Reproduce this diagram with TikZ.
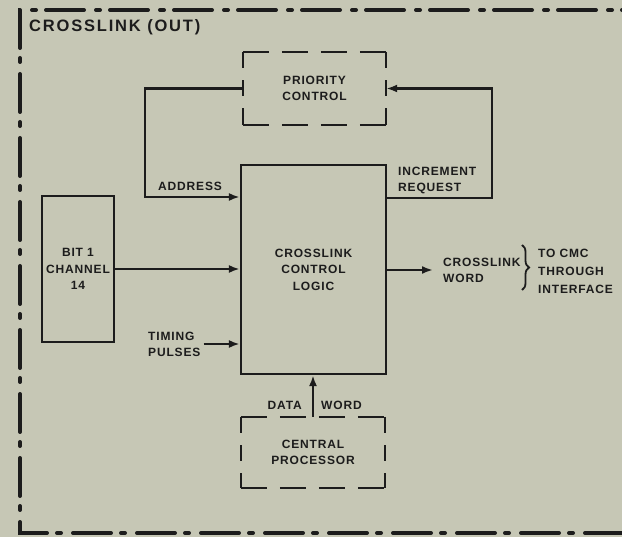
\documentclass[tikz,border=0pt]{standalone}
\usepackage{fontspec}
\setmainfont{Liberation Sans}[LetterSpace=7, UprightFont=* Bold]
\usetikzlibrary{arrows.meta,decorations.pathreplacing}
\definecolor{bg}{HTML}{C6C7B5}
\definecolor{ink}{HTML}{1C1C1C}
\tikzset{
  line/.style={draw=ink, line width=2.2pt},
  arr/.style={line, -{Latex[length=11pt,width=8pt]}},
  lbl/.style={font=\fontsize{12}{16}\selectfont, text=ink, align=left, inner sep=0pt},
  solidbox/.style={draw=ink, line width=2.2pt, inner sep=0pt, align=center, text=ink, font=\fontsize{12}{16.5}\selectfont},
  ghost/.style={inner sep=0pt, align=center, text=ink, font=\fontsize{12}{16.5}\selectfont},
  hdash/.style={draw=ink, line width=2.2pt, dash pattern=on 26pt off 13pt},
  vdash/.style={draw=ink, line width=2.2pt, dash pattern=on 16.3pt off 12pt},
  border/.style={draw=ink, line width=4pt, line cap=round, dash pattern=on 38pt off 10pt on 4pt off 12pt},
  ttl/.style={font=\fontsize{16.5}{18}\selectfont\addfontfeature{LetterSpace=11}, text=ink, inner sep=0pt},
  bracestyle/.style={draw=ink, line width=1.8pt, decorate, decoration={brace, amplitude=7pt}},
}
\begin{document}
\begin{tikzpicture}[x=1pt,y=-1pt]
\fill[bg] (0,0) rectangle (622,537);
\useasboundingbox (0,0) rectangle (622,537);
\begin{scope}
\clip (0,0) rectangle (622,537);
\draw[border] (660,10) -- (20,10) -- (20,533) -- (660,533);
\end{scope}

\node[ttl, anchor=west] (title) at (29,27) {CROSSLINK (OUT)};

% blocks
\node[solidbox, minimum width=145pt, minimum height=209pt] (ccl) at (313.5,269.5) {CROSSLINK\\CONTROL\\LOGIC};
\node[solidbox, minimum width=72pt, minimum height=146pt] (bit) at (78,269) {BIT 1\\CHANNEL\\14};
\node[ghost, minimum width=143pt, minimum height=73pt] (pc) at (314.5,88.5) {PRIORITY\\CONTROL};
\node[ghost, minimum width=144pt, minimum height=71pt] (cp) at (313,452.5) {CENTRAL\\PROCESSOR};

% dashed outlines
\draw[hdash] (pc.north west) -- (pc.north east);
\draw[hdash] (pc.south west) -- (pc.south east);
\draw[vdash] (pc.north west) -- (pc.south west);
\draw[vdash] (pc.north east) -- (pc.south east);
\draw[hdash] (cp.north west) -- (cp.north east);
\draw[hdash] (cp.south west) -- (cp.south east);
\draw[vdash] (cp.north west) -- (cp.south west);
\draw[vdash] (cp.north east) -- (cp.south east);

% labels
\node[lbl] (addr) at (190,186) {ADDRESS};
\node[lbl, anchor=west] (inc) at (398,180) {INCREMENT\\REQUEST};
\node[lbl, anchor=west] (tp) at (148,344) {TIMING\\PULSES};
\node[lbl, anchor=west] (cw) at (443,270) {CROSSLINK\\WORD};
\node[lbl, anchor=west, font=\fontsize{12}{18}\selectfont] (cmc) at (538,271) {TO CMC\\THROUGH\\INTERFACE};
\node[lbl, anchor=east] (data) at (302,405) {DATA};
\node[lbl, anchor=west] (word) at (321,405) {WORD};

% coordinates
\coordinate (addrc) at (145,88.5);
\coordinate (addry) at (0,197);
\coordinate (incc) at (492,198);
\coordinate (b1) at (522,245);
\coordinate (b2) at (522,290);

% connectors
\draw[arr] (pc.west) -- (addrc) |- (ccl.west |- addry);
\draw[arr] (ccl.east |- incc) -- (incc) |- (pc.east);
\draw[arr] (bit.east) -- (ccl.west |- bit.east);
\draw[arr, shorten <=3pt] (tp.east) -- (ccl.west |- tp.east);
\draw[arr, shorten >=10pt] (ccl.east |- cw.west) -- (cw.west);
\draw[arr] (cp.north) -- (ccl.south -| cp.north);
\draw[bracestyle] (b1) -- (b2);
\end{tikzpicture}
\end{document}
